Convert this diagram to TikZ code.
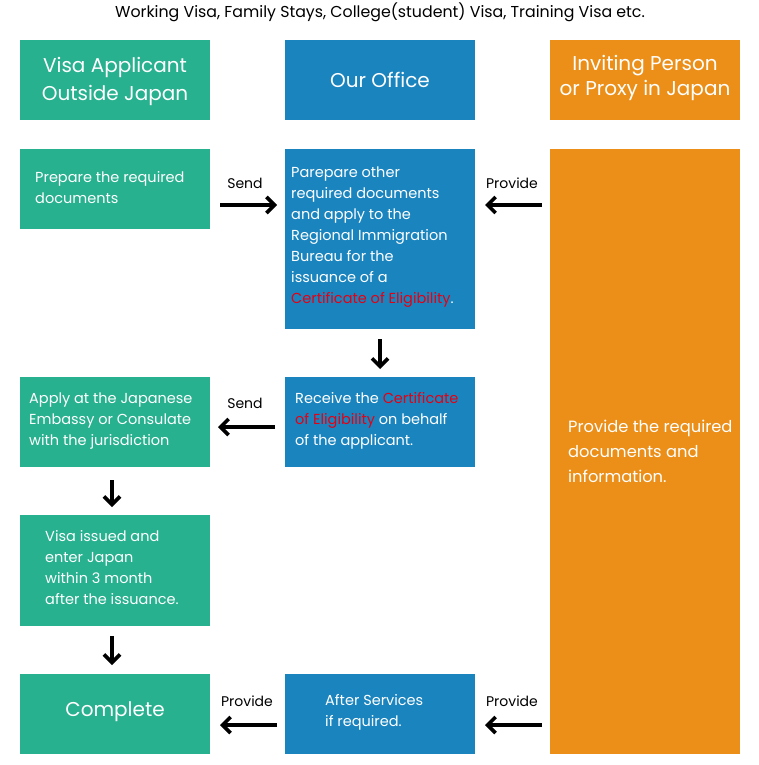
\documentclass[tikz,border=0pt]{standalone}
\usepackage{fontspec}
\setmainfont{Poppins}
\usetikzlibrary{arrows.meta,calc}
\definecolor{cgreen}{HTML}{27B18F}
\definecolor{cblue}{HTML}{1A84BF}
\definecolor{corange}{HTML}{EC8F18}
\definecolor{cred}{HTML}{E50012}
\begin{document}
\begin{tikzpicture}[x=1pt,y=-1pt,
  box/.style={draw=none,inner sep=0pt,outer sep=0pt,minimum width=190pt,rectangle},
  gbox/.style={box,fill=cgreen},
  bbox/.style={box,fill=cblue},
  obox/.style={box,fill=corange},
  body/.style={text=white,inner sep=0pt,anchor=west,align=left,font=\fontsize{14.5}{21}\selectfont},
  head/.style={text=white,inner sep=0pt,align=center,font=\fontsize{20}{28}\selectfont},
  lbl/.style={text=black,inner sep=0pt,font=\fontsize{14}{17}\selectfont},
  arr/.style={line width=3.6pt,-{Straight Barb[length=8pt,width=16pt]}}
]
\useasboundingbox (0,0) rectangle (759,765);
% title
\node[lbl,font=\fontsize{15.8}{19}\selectfont] (title) at (380,12) {Working Visa, Family Stays, College(student) Visa, Training Visa etc.};
% headers
\node[gbox,minimum height=80pt] (h1) at (115,80) {};
\node[bbox,minimum height=80pt] (h2) at (380,80) {};
\node[obox,minimum height=80pt] (h3) at (645,80) {};
\node[head] (h1t) at (115,81) {Visa Applicant\\Outside Japan};
\node[head] (h2t) at (380,80) {Our Office};
\node[head,font=\fontsize{20}{25}\selectfont] (h3t) at (645,78) {Inviting Person\\or Proxy in Japan};
% boxes
\node[gbox,minimum height=80pt] (prep) at (115,189) {};
\node[bbox,minimum height=180pt] (blue1) at (380,239) {};
\node[obox,minimum height=605pt] (orng) at (645,451.5) {};
\node[gbox,minimum height=90pt] (apply) at (115,422) {};
\node[bbox,minimum height=90pt] (recv) at (380,422) {};
\node[gbox,minimum height=111pt] (visa) at (115,570.5) {};
\node[gbox,minimum height=80pt] (comp) at (115,714) {};
\node[bbox,minimum height=80pt] (after) at (380,714) {};
% texts
\node[body] (prept) at (35,188) {Prepare the required\\documents};
\node[body] (blue1t) at (291,237) {Parepare other\\required documents\\and apply to the\\Regional Immigration\\Bureau for the\\issuance of a\\\textcolor{cred}{Certificate of Eligibility}.};
\node[body] (applyt) at (29,421) {Apply at the Japanese\\Embassy or Consulate\\with the jurisdiction};
\node[body] (recvt) at (295,421) {Receive the \textcolor{cred}{Certificate}\\\textcolor{cred}{of Eligibility} on behalf\\of the applicant.};
\node[body] (visat) at (45,568) {Visa issued and\\enter Japan\\within 3 month\\after the issuance.};
\node[body] (aftert) at (325,712) {After Services\\if required.};
\node[body,font=\fontsize{16.3}{25}\selectfont] (orngt) at (568,451) {Provide the required\\documents and\\information.};
\node[head] (compt) at (115,712) {Complete};
% labels
\node[lbl] (l1) at (245,183) {Send};
\node[lbl] (l2) at (512,183) {Provide};
\node[lbl] (l3) at (245,403) {Send};
\node[lbl] (l4) at (247,701) {Provide};
\node[lbl] (l5) at (512,701) {Provide};
% arrows
\coordinate (ya) at (0,205);
\coordinate (yb) at (0,427);
\coordinate (yc) at (0,725);
\draw[arr,shorten <=10pt,shorten >=8pt] (prep.east |- ya) -- (blue1.west |- ya);
\draw[arr,shorten <=8pt,shorten >=10pt] (orng.west |- ya) -- (blue1.east |- ya);
\draw[arr,shorten <=10pt,shorten >=8pt] (blue1.south) -- (recv.north);
\draw[arr,shorten <=10pt,shorten >=8pt] (recv.west |- yb) -- (apply.east |- yb);
\draw[arr,shorten <=13pt,shorten >=8pt] ([xshift=-3pt]apply.south) -- ([xshift=-3pt]visa.north);
\draw[arr,shorten <=10pt,shorten >=9pt] ([xshift=-3pt]visa.south) -- ([xshift=-3pt]comp.north);
\draw[arr,shorten <=8pt,shorten >=10pt] (after.west |- yc) -- (comp.east |- yc);
\draw[arr,shorten <=8pt,shorten >=10pt] (orng.west |- yc) -- (after.east |- yc);
\end{tikzpicture}
\end{document}
